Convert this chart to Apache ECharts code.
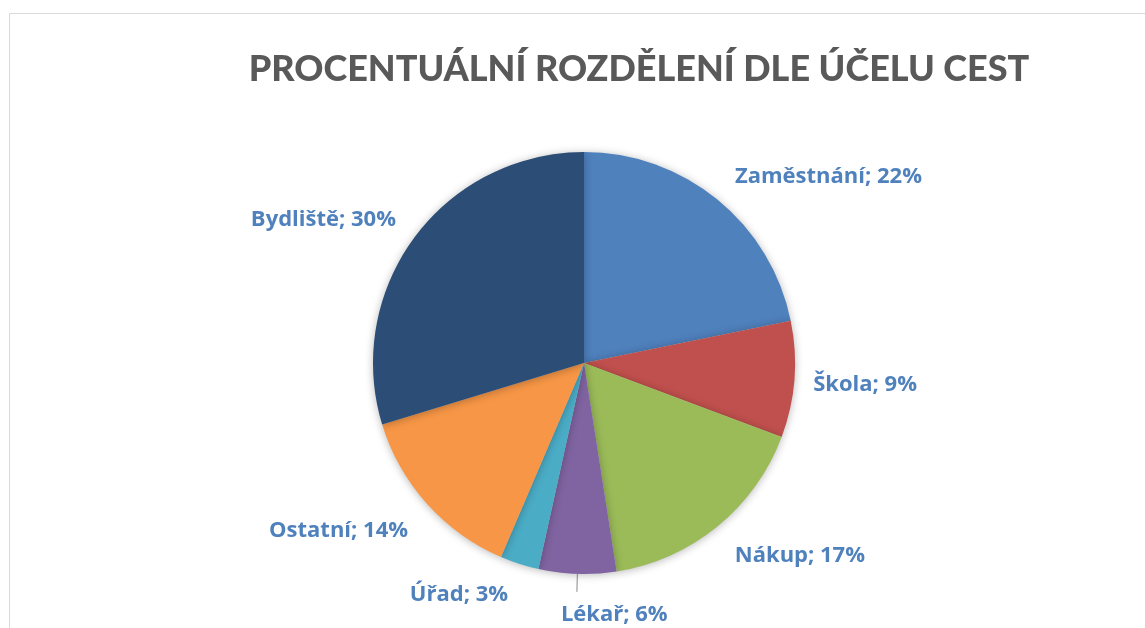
<!DOCTYPE html>
<html lang="cs">
<head>
<meta charset="utf-8">
<title>Procentuální rozdělení dle účelu cest</title>
<script src="https://cdn.jsdelivr.net/npm/echarts@6/dist/echarts.min.js"></script>
<style>
  html, body { margin: 0; padding: 0; background: #ffffff; }
  #chart { width: 1145px; height: 628px; }
</style>
</head>
<body>
<div id="chart"></div>
<script>
// Trip purposes and their shares (%)
const purposes = ['Zaměstnání', 'Škola', 'Nákup', 'Lékař', 'Úřad', 'Ostatní', 'Bydliště'];
const shares = [22, 9, 17, 6, 3, 14, 30];
const sliceColors = ['#4F81BD', '#C0504D', '#9BBB59', '#8064A2', '#4BACC6', '#F79646', '#2C4D75'];
const chartTitle = 'PROCENTUÁLNÍ ROZDĚLENÍ DLE ÚČELU CEST';

// Label placement per slice: radial reach beyond the rim and horizontal nudge
const labelReach = [31.6, 46, 35.5, 18, 30.6, 37.7, 32.5];
const labelNudge = [-2.4, -27, -5, 0, 2, -9.2, -7.6];
const LEADER_INDEX = 3; // only this slice shows a leader line

const TITLE_FONT = 'Lato, "Open Sans", sans-serif';
const LABEL_FONT = '"Open Sans", Lato, sans-serif';

const chart = echarts.init(document.getElementById('chart'), null, { renderer: 'canvas' });

const pieData = purposes.map((name, i) => ({
  name: name,
  value: shares[i],
  itemStyle: { color: sliceColors[i] },
  label: { distanceToLabelLine: labelNudge[i] },
  labelLine: { show: i === LEADER_INDEX, length: labelReach[i], length2: 0 }
}));

chart.setOption({
  animation: false,
  backgroundColor: '#ffffff',
  graphic: [{
    type: 'rect',
    silent: true,
    shape: { x: 9.5, y: 13.5, width: 1300, height: 800 },
    style: { fill: 'none', stroke: '#D9D9D9', lineWidth: 1 }
  }],
  title: {
    text: chartTitle,
    left: 634,
    top: 46,
    textAlign: 'center',
    textStyle: { fontFamily: TITLE_FONT, fontWeight: 900, fontSize: 36, color: '#595959' }
  },
  series: [{
    type: 'pie',
    center: [584, 363],
    radius: 211,
    startAngle: 90,
    clockwise: true,
    avoidLabelOverlap: false,
    data: pieData,
    itemStyle: {
      borderWidth: 0,
      shadowBlur: 8,
      shadowColor: 'rgba(0,0,0,0.28)',
      shadowOffsetX: 0,
      shadowOffsetY: 1
    },
    label: {
      show: true,
      position: 'outside',
      formatter: (p) => p.name + '; ' + p.value + '%',
      fontFamily: LABEL_FONT,
      fontWeight: 'bold',
      fontSize: 22,
      color: '#4F81BD'
    },
    labelLine: {
      lineStyle: { color: '#A6A6A6', width: 1.3 }
    },
    labelLayout: function (params) {
      if (params.dataIndex !== LEADER_INDEX || !params.labelLinePoints) {
        return { dy: 2 };
      }
      // Leader-line label sits below the line end, starting just left of it
      const end = params.labelLinePoints[1];
      return {
        x: end[0] - 16,
        y: end[1] + 23,
        align: 'left',
        verticalAlign: 'middle',
        labelLinePoints: params.labelLinePoints
      };
    },
    emphasis: { disabled: true }
  }]
});
</script>
</body>
</html>
